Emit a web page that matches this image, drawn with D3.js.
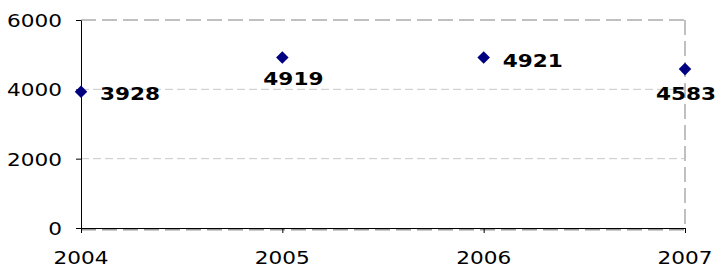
<!DOCTYPE html>
<html><head><meta charset="utf-8">
<script src="https://cdn.jsdelivr.net/npm/d3@7"></script>
<style>body{margin:0;background:#fff}svg{display:block}</style>
</head><body>
<script>
const years = [2004, 2005, 2006, 2007];
const values = [3928, 4919, 4921, 4583];
const yTicks = [0, 2000, 4000, 6000];

(function () {
const W = 718, H = 268;
const pL = 81, pR = 685, pT = 20, pB = 228;
const sx = 1.2; // horizontal stretch of the text
const svg = d3.select("body").append("svg").attr("width", W).attr("height", H);

const x = d3.scaleLinear().domain([2004, 2007]).range([pL, pR]);
const y = d3.scaleLinear().domain([0, 6000]).range([pB, pT]);

// interior gridlines
svg.selectAll(".grid").data(yTicks.filter(d => d > 0 && d < 6000)).join("line")
  .attr("x1", pL).attr("x2", pR).attr("y1", d => y(d)).attr("y2", d => y(d))
  .attr("stroke", "#c8c8c8").attr("stroke-width", 1).attr("stroke-dasharray", "8,4");

// plot area border (dashed)
const border = "#c0c0c0";
svg.append("line").attr("x1", pL).attr("x2", pR).attr("y1", y(6000)).attr("y2", y(6000))
  .attr("stroke", border).attr("stroke-width", 2).attr("stroke-dasharray", "15,6");
svg.append("line").attr("x1", pR).attr("x2", pR).attr("y1", pT).attr("y2", pB)
  .attr("stroke", border).attr("stroke-width", 2).attr("stroke-dasharray", "15,6");
svg.append("line").attr("x1", pL).attr("x2", pR).attr("y1", pB + 1.5).attr("y2", pB + 1.5)
  .attr("stroke", "#999").attr("stroke-width", 2).attr("stroke-dasharray", "15,6");

// axes
const yAxis = d3.axisLeft(y).tickValues(yTicks).tickSize(5).tickSizeOuter(0).tickFormat("");
const gy = svg.append("g").attr("transform", `translate(${pL},0)`).call(yAxis);
const xAxis = d3.axisBottom(x).tickValues(years).tickSize(5).tickSizeOuter(0).tickFormat("");
const gx = svg.append("g").attr("transform", `translate(0,${pB})`).call(xAxis);
[gy, gx].forEach(g => {
  g.select(".domain").attr("stroke", "#000").attr("stroke-width", 1);
  g.selectAll(".tick line").attr("stroke", "#000");
});

const font = "'DejaVu Sans', Verdana, sans-serif";

// y tick labels
svg.selectAll(".ylab").data(yTicks).join("text")
  .attr("transform", d => `translate(62,${y(d) + 7}) scale(${sx},1)`)
  .attr("text-anchor", "end").attr("font-family", font).attr("font-size", 18).attr("fill", "#000")
  .text(d => d);

// x tick labels
svg.selectAll(".xlab").data(years).join("text")
  .attr("transform", d => `translate(${x(d)},264) scale(${sx},1)`)
  .attr("text-anchor", "middle").attr("font-family", font).attr("font-size", 18).attr("fill", "#000")
  .text(d => d);

// markers
const pts = years.map((yr, i) => ({yr, v: values[i]}));
svg.selectAll(".pt").data(pts).join("path")
  .attr("d", d3.symbol().type(d3.symbolDiamond2).size(100))
  .attr("transform", d => `translate(${x(d.yr)},${y(d.v)})`)
  .attr("fill", "#000080");

// data labels (offset from each point)
const labelOffsets = [[19, 8], [-19, 27.5], [19, 9.6], [-29, 31]];
svg.selectAll(".dl").data(pts).join("text")
  .attr("transform", (d, i) => `translate(${x(d.yr) + labelOffsets[i][0]},${y(d.v) + labelOffsets[i][1]}) scale(${sx},1)`)
  .attr("font-family", font).attr("font-weight", "bold").attr("font-size", 18).attr("fill", "#000")
  .text(d => d.v);
})();
</script>
</body></html>
